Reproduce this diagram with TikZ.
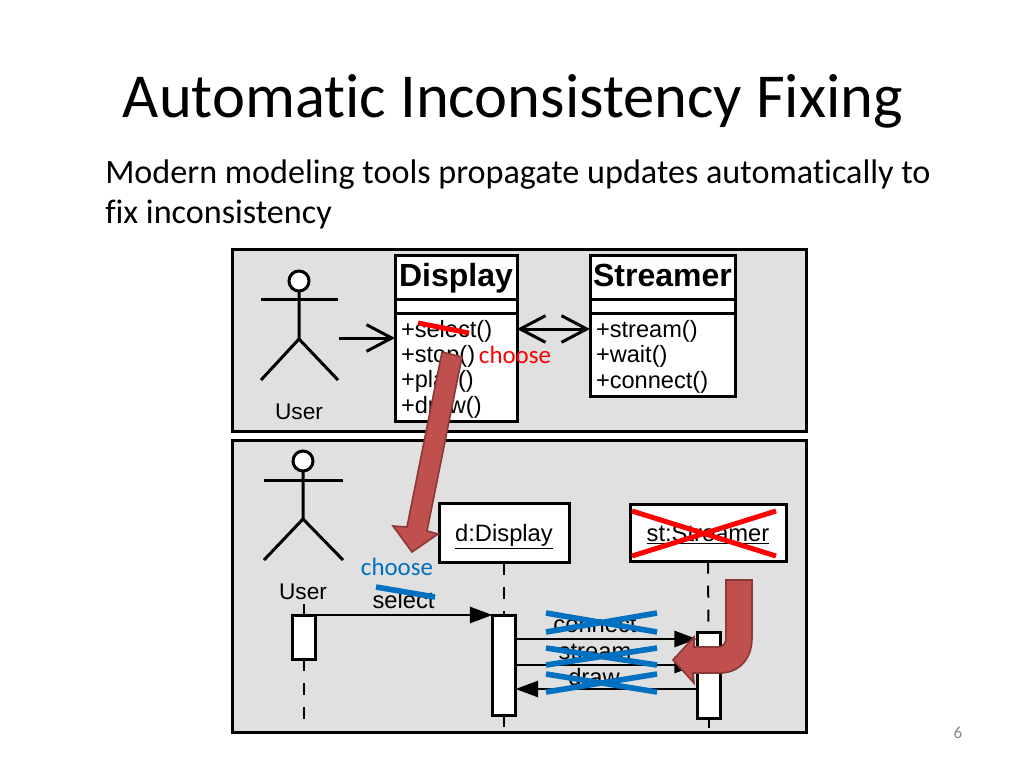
\documentclass[tikz,border=0pt]{standalone}
\usepackage{fontspec}
\setmainfont[Ligatures={NoCommon,NoRequired,NoContextual}]{Carlito}
\newfontfamily\umlfont{Liberation Sans}
\usetikzlibrary{arrows.meta,calc}
\definecolor{IncPanel}{RGB}{224,224,224}
\definecolor{IncRed}{RGB}{255,0,0}
\definecolor{IncBlue}{RGB}{0,112,192}
\definecolor{IncArrow}{RGB}{192,80,77}
\definecolor{IncArrowEdge}{RGB}{140,56,54}
\definecolor{IncGray}{RGB}{137,137,137}
\newcommand{\opsstrut}{\rule{0pt}{16pt}}
\tikzset{
  inc/size/.style 2 args={minimum width=#1*0.75pt,minimum height=#2*0.75pt},
  inc/panel/.style={draw=black,line width=2.25pt,fill=IncPanel,inner sep=0pt,outer sep=0pt},
  inc/box/.style={draw=black,line width=2.25pt,fill=white,inner sep=0pt,outer sep=0pt,text=black},
  inc/ops/.style={inc/box,align=left,font=\umlfont\fontsize{17.7}{19}\selectfont},
  inc/classname/.style={inc/box,text height=18pt,text depth=4.5pt,font=\umlfont\bfseries\fontsize{24}{28}\selectfont},
  inc/object/.style={inc/box,text height=14pt,text depth=2pt,font=\umlfont\fontsize{17.8}{19}\selectfont},
  inc/label/.style={inner sep=0pt,outer sep=0pt,font=\umlfont\fontsize{17.8}{19}\selectfont},
  inc/stick/.style={line width=2.25pt,draw=black},
  inc/head/.style={circle,draw=black,line width=2.25pt,fill=white,inner sep=0pt,outer sep=0pt,minimum size=15pt},
  inc/openarrow/.style={-{Straight Barb[length=19pt,width=20pt,line width=2.25pt]},line width=2.25pt,draw=black},
  inc/bothopen/.style={{Straight Barb[length=19pt,width=20pt,line width=2.25pt]}-{Straight Barb[length=19pt,width=20pt,line width=2.25pt]},line width=2.25pt,draw=black},
  inc/msg/.style={-{Triangle[length=17pt,width=12pt]},line width=2.2pt,draw=black},
  inc/life/.style={line width=1.5pt,draw=black,dash pattern=on 9pt off 9pt},
  inc/redstrike/.style={line width=3.75pt,draw=IncRed},
  inc/bluestrike/.style={line width=4.2pt,draw=IncBlue},
  inc/fixarrow/.style={fill=IncArrow,draw=IncArrowEdge,line width=1.2pt,line join=miter},
  inc/choose/.style={inner sep=0pt,outer sep=0pt,font=\fontsize{18.7}{22}\selectfont}
}
\begin{document}
\begin{tikzpicture}[x=0.75pt,y=-0.75pt]
  \useasboundingbox (0,0) rectangle (1024,768);
  \node[font=\fontsize{46.9}{56}\selectfont] (title) at (513,101) {Automatic Inconsistency Fixing};
  \node[anchor=north west,inner sep=0pt,align=left,font=\fontsize{25.6}{30}\selectfont] (intro) at (105,160)
    {Modern modeling tools propagate updates automatically to\\fix inconsistency};
  \node[text=IncGray,font=\fontsize{12.8}{15}\selectfont] (pagenum) at (958,733) {6};

  \node[inc/panel,inc/size={574}{182}] (classpanel) at (519,340) {};
  \node[inc/panel,inc/size={574}{292}] (seqpanel) at (519,586) {};

  \node[inc/head] (userhead) at (299,281) {};
  \draw[inc/stick] (userhead.south) -- ++(0,48) coordinate (userhip) -- ++(-38,41);
  \draw[inc/stick] (userhip) -- ++(39,41);
  \draw[inc/stick] (261,299) -- (338,299);
  \node[inc/label,font=\umlfont\fontsize{17}{19}\selectfont] (userlabel) at (299,412) {User};

  \node[inc/classname,inc/size={122}{44}] (displayname) at (456,277) {Display};
  \node[inc/box,inc/size={122}{14}] (displayattr) at (456,306) {};
  \node[inc/ops,inc/size={122}{108},text width=110*0.75pt] (displayops) at (456,367) {\opsstrut+select()\\+stop()\\+play()\\+draw()};
  \node[inc/classname,inc/size={145}{44}] (streamername) at (662.5,277) {Streamer};
  \node[inc/box,inc/size={145}{14}] (streamerattr) at (662.5,306) {};
  \node[inc/ops,inc/size={145}{83},text width=133*0.75pt] (streamerops) at (662.5,354.5) {\opsstrut+stream()\\+wait()\\+connect()};
  \coordinate (userarrow) at (339,338);
  \draw[inc/openarrow] (userarrow) -- (displayops.west |- userarrow);
  \coordinate (assocy) at (0,329);
  \draw[inc/bothopen] (displayops.east |- assocy) -- (streamerops.west |- assocy);

  \node[inc/head] (seqhead) at (303,461) {};
  \draw[inc/stick] (seqhead.south) -- ++(0,48) coordinate (seqhip) -- ++(-39,41);
  \draw[inc/stick] (seqhip) -- ++(40,41);
  \draw[inc/stick] (264,480) -- (343,480);
  \node[inc/label,font=\umlfont\fontsize{17}{19}\selectfont] (sequser) at (303,592) {User};

  \node[inc/object,inc/size={130}{59}] (dobject) at (504,533) {\underline{d:Display}};
  \node[inc/object,inc/size={156}{57}] (stobject) at (708,533) {\underline{st:Streamer}};
  \node[inc/box,inc/size={23}{44}] (useract) at (304,637) {};
  \node[inc/box,inc/size={23}{100}] (displayact) at (504,665) {};
  \node[inc/box,inc/size={23}{86}] (streameract) at (708.5,675) {};
  \coordinate (userlifetop) at ($(useract.north)+(0,-11)$);
  \coordinate (userlifeend) at ($(useract.south)+(0,61)$);
  \coordinate (displaylifeend) at ($(displayact.south)+(0,13)$);
  \coordinate (streamerlifeend) at ($(streameract.south)+(0,10)$);
  \draw[inc/life] (userlifetop) -- (useract.north);
  \draw[inc/life] (useract.south) -- (userlifeend);
  \draw[inc/life] (dobject.south) -- (displayact.north);
  \draw[inc/life] (displayact.south) -- (displaylifeend);
  \draw[inc/life] (stobject.south) -- (streameract.north);
  \draw[inc/life] (streameract.south) -- (streamerlifeend);

  \node[inc/label] (selectmsg) at (403.5,600) {select};
  \node[inc/label] (connectmsg) at (595,625) {connect};
  \node[inc/label] (streammsg) at (595,652) {stream};
  \node[inc/label] (drawmsg) at (594,677) {draw};
  \draw[inc/msg] (useract.north east) -- (displayact.north west);
  \coordinate (connecty) at (0,639);
  \coordinate (streamy) at (0,665);
  \coordinate (drawy) at (0,689);
  \draw[inc/msg] (displayact.east |- connecty) -- (streameract.west |- connecty);
  \draw[inc/msg] (displayact.east |- streamy) -- (streameract.west |- streamy);
  \draw[inc/msg] (streameract.west |- drawy) -- (displayact.east |- drawy);

  \draw[inc/redstrike] (418,323) -- (469,333);
  \draw[inc/redstrike] (632,511) -- (776,556);
  \draw[inc/redstrike] (632,556) -- (776,511);
  \draw[inc/bluestrike] (376,587) -- (435,597);
  \foreach \toprow/\botrow in {613/632,648/665,674/692} {
    \draw[inc/bluestrike] (546,\toprow) -- (657,\botrow);
    \draw[inc/bluestrike] (546,\botrow) -- (657,\toprow);
  }
  \node[inc/choose,text=IncRed] (choosered) at (515,355) {choose};
  \node[inc/choose,text=IncBlue] (chooseblue) at (397,567) {choose};

  \draw[inc/fixarrow] (442,352) -- (462,357) -- (427,531) -- (438,534) -- (412,552)
    -- (393,526) -- (407,527) -- cycle;
  \draw[inc/fixarrow] (726,580) -- (752,580) -- (752,638)
    .. controls (752,660) and (738,673) .. (720,673) -- (693,673) -- (694,683) -- (673,660)
    -- (694,637) -- (694,647) -- (718,647) .. controls (723,647) and (726,643) .. (726,638) -- cycle;
\end{tikzpicture}
\end{document}
